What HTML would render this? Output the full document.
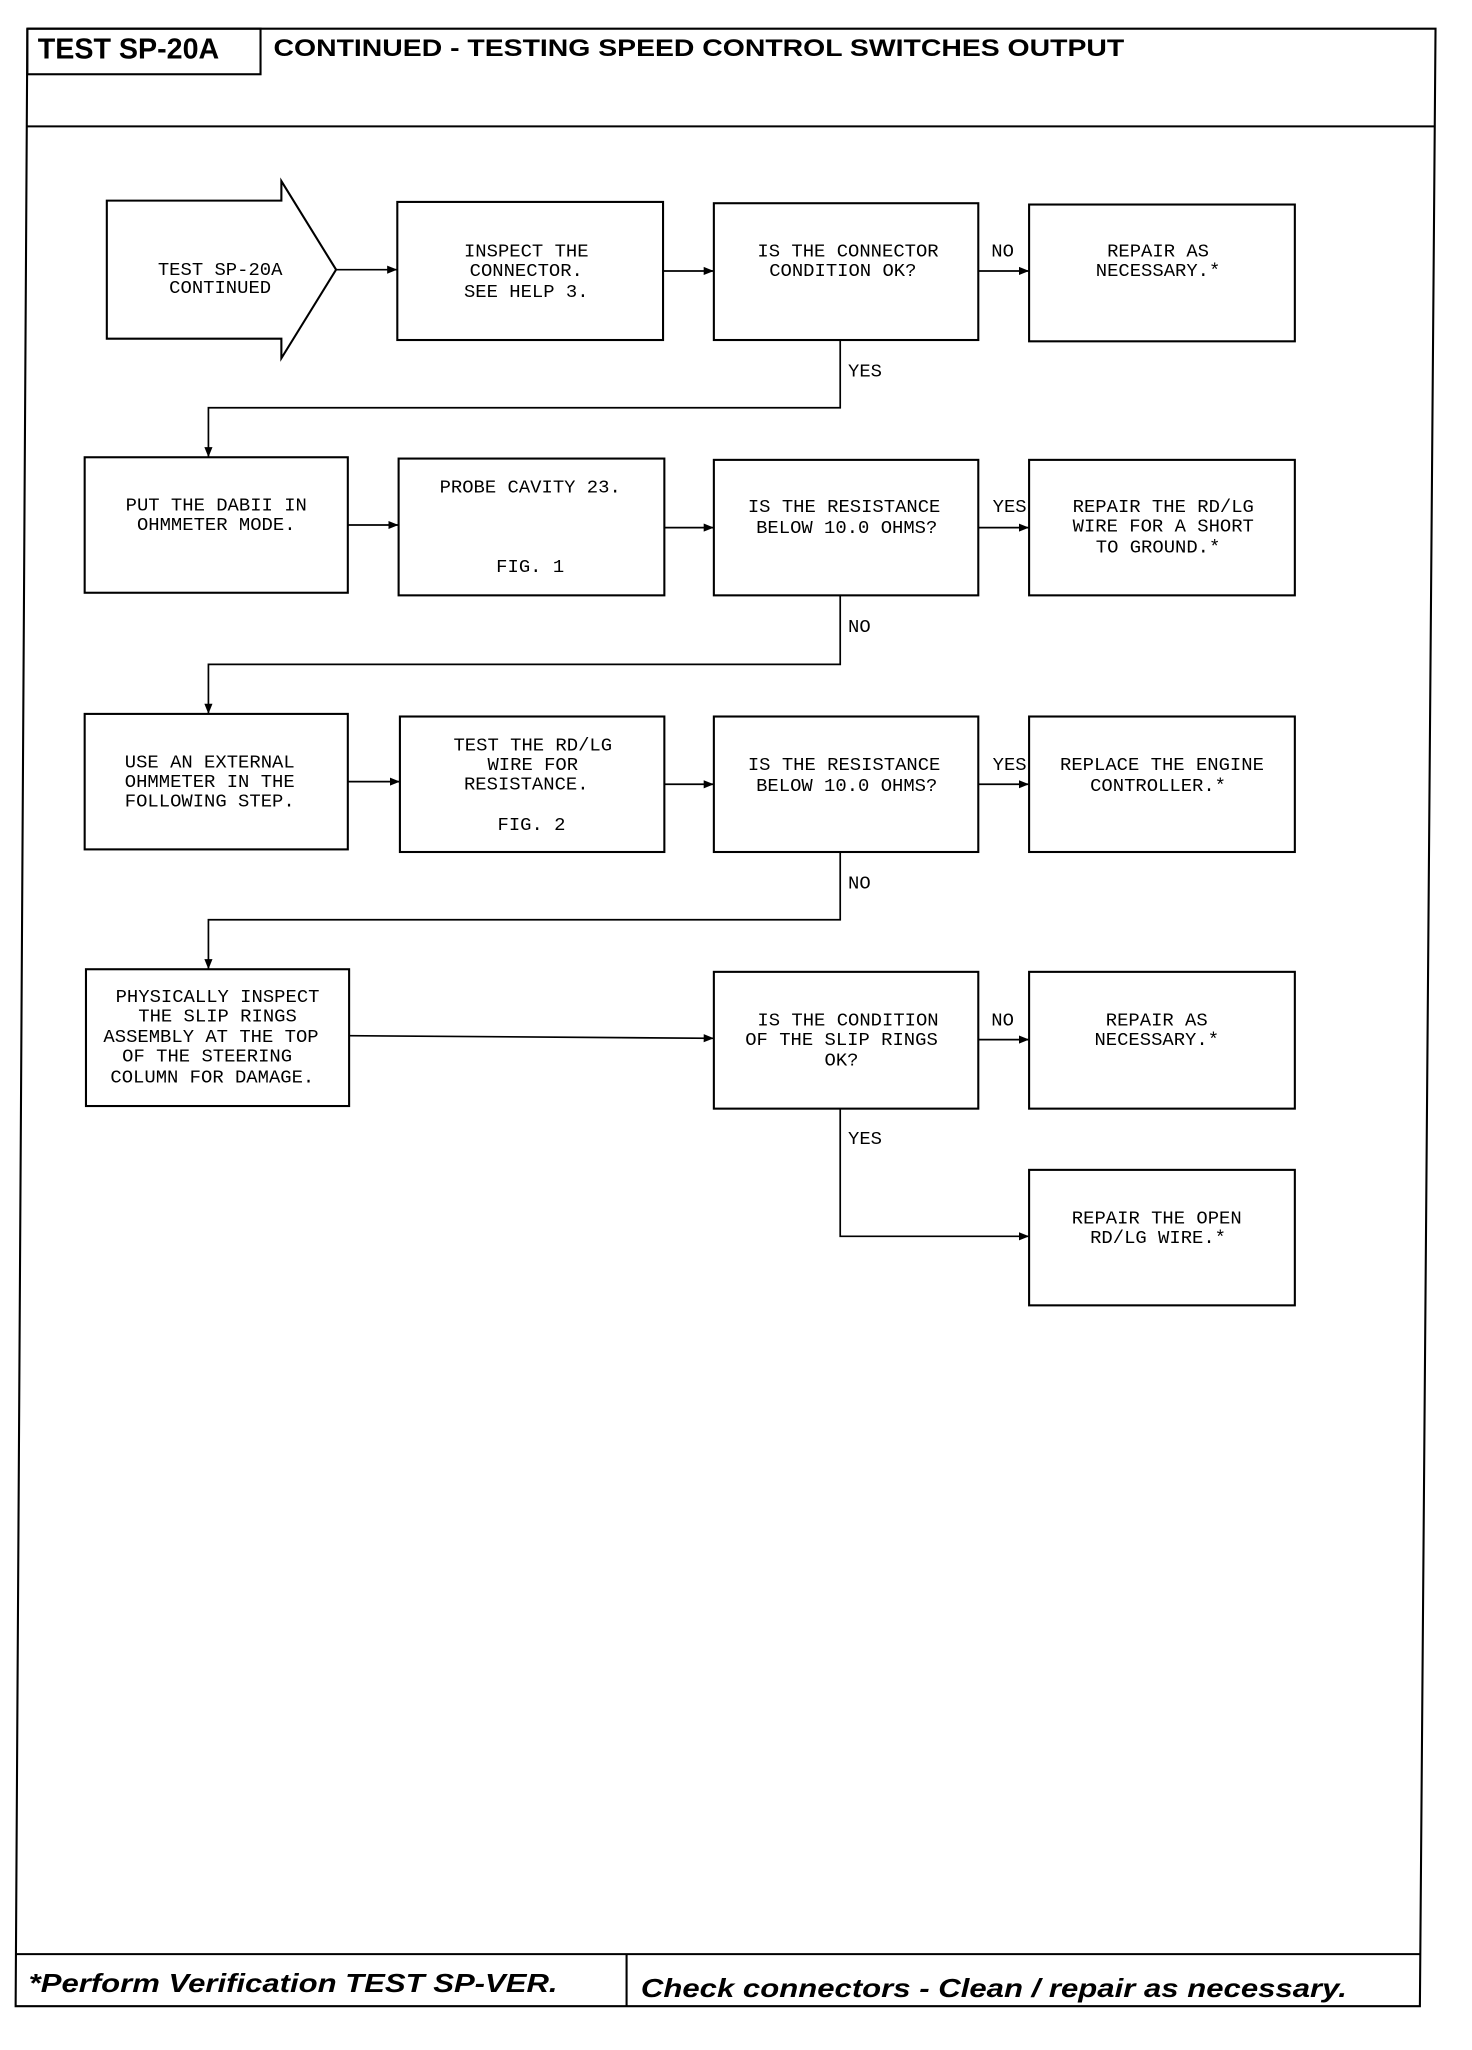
<!DOCTYPE html>
<html><head><meta charset="utf-8"><style>
html,body{margin:0;padding:0;background:#fff;}
svg{display:block;}
.b{fill:none;stroke:#000;stroke-width:1.6;}
.l{fill:none;stroke:#000;stroke-width:1.3;}
.t{font-family:"Liberation Mono",monospace;font-size:14.5px;fill:#000;text-anchor:middle;}
.lab{font-family:"Liberation Mono",monospace;font-size:14.5px;fill:#000;}
</style></head><body>
<svg width="1472" height="2050" viewBox="0 0 1130 1573.6" preserveAspectRatio="none" xmlns="http://www.w3.org/2000/svg">
<defs><marker id="a" viewBox="0 0 10 10" refX="10" refY="5" markerWidth="6" markerHeight="6" orient="auto"><path d="M0,1 L10,5 L0,9 z" fill="#000"/></marker></defs>
<!-- frame -->
<polyline class="b" points="21,22 1102,22 1090,1540 12,1540 21,22" stroke-width="2"/>
<line class="b" x1="21" y1="97" x2="1102" y2="97" stroke-width="2"/>
<line class="b" x1="12" y1="1500" x2="1090" y2="1500" stroke-width="2.2"/>
<line class="b" x1="481" y1="1500" x2="481" y2="1540" stroke-width="2"/>
<rect class="b" x="21" y="22" width="179" height="35" stroke-width="2"/>
<text x="29" y="45" font-family="Liberation Sans,sans-serif" font-weight="bold" font-size="22" fill="#000">TEST SP-20A</text>
<text x="210" y="43" font-family="Liberation Sans,sans-serif" font-weight="bold" font-size="18.5" fill="#000" textLength="653" lengthAdjust="spacingAndGlyphs">CONTINUED - TESTING SPEED CONTROL SWITCHES OUTPUT</text>
<text x="22" y="1529" font-family="Liberation Sans,sans-serif" font-weight="bold" font-style="italic" font-size="20" fill="#000" textLength="406" lengthAdjust="spacingAndGlyphs">*Perform Verification TEST SP-VER.</text>
<text x="492" y="1533" font-family="Liberation Sans,sans-serif" font-weight="bold" font-style="italic" font-size="20" fill="#000" textLength="542" lengthAdjust="spacingAndGlyphs">Check connectors - Clean / repair as necessary.</text>

<!-- start arrow -->
<polygon class="b" points="82,154 216,154 216,139 258,207 216,275 216,260 82,260"/>
<text class="t" x="169" y="211">TEST SP-20A</text>
<text class="t" x="169" y="225">CONTINUED</text>

<!-- row1 -->
<rect class="b" x="305" y="155" width="204" height="106"/>
<text class="t" x="404" y="197">INSPECT THE</text>
<text class="t" x="404" y="212">CONNECTOR.</text>
<text class="t" x="404" y="228">SEE HELP 3.</text>
<rect class="b" x="548" y="156" width="203" height="105"/>
<text class="t" x="651" y="197">IS THE CONNECTOR</text>
<text class="t" x="647" y="212">CONDITION OK?</text>
<rect class="b" x="790" y="157" width="204" height="105"/>
<text class="t" x="889" y="197">REPAIR AS</text>
<text class="t" x="889" y="212">NECESSARY.*</text>

<line class="l" x1="258" y1="207" x2="305" y2="207" marker-end="url(#a)"/>
<line class="l" x1="509" y1="208" x2="548" y2="208" marker-end="url(#a)"/>
<line class="l" x1="751" y1="208" x2="790" y2="208" marker-end="url(#a)"/>
<text class="lab" x="761" y="197">NO</text>
<polyline class="l" points="645,261 645,313 160,313 160,351" marker-end="url(#a)"/>
<text class="lab" x="651" y="289">YES</text>

<!-- row2 -->
<rect class="b" x="65" y="351" width="202" height="104"/>
<text class="t" x="166" y="392">PUT THE DABII IN</text>
<text class="t" x="166" y="407">OHMMETER MODE.</text>
<rect class="b" x="306" y="352" width="204" height="105"/>
<text class="t" x="407" y="378">PROBE CAVITY 23.</text>
<text class="t" x="407" y="439">FIG. 1</text>
<rect class="b" x="548" y="353" width="203" height="104"/>
<text class="t" x="648" y="393">IS THE RESISTANCE</text>
<text class="t" x="650" y="409">BELOW 10.0 OHMS?</text>
<rect class="b" x="790" y="353" width="204" height="104"/>
<text class="t" x="893" y="393">REPAIR THE RD/LG</text>
<text class="t" x="893" y="408">WIRE FOR A SHORT</text>
<text class="t" x="889" y="424">TO GROUND.*</text>
<line class="l" x1="267" y1="403" x2="306" y2="403" marker-end="url(#a)"/>
<line class="l" x1="510" y1="405" x2="548" y2="405" marker-end="url(#a)"/>
<line class="l" x1="751" y1="405" x2="790" y2="405" marker-end="url(#a)"/>
<text class="lab" x="762" y="393">YES</text>
<polyline class="l" points="645,457 645,510 160,510 160,548" marker-end="url(#a)"/>
<text class="lab" x="651" y="485">NO</text>

<!-- row3 -->
<rect class="b" x="65" y="548" width="202" height="104"/>
<text class="t" x="161" y="589">USE AN EXTERNAL</text>
<text class="t" x="161" y="604">OHMMETER IN THE</text>
<text class="t" x="161" y="619">FOLLOWING STEP.</text>
<rect class="b" x="307" y="550" width="203" height="104"/>
<text class="t" x="409" y="576">TEST THE RD/LG</text>
<text class="t" x="409" y="591">WIRE FOR</text>
<text class="t" x="404" y="606">RESISTANCE.</text>
<text class="t" x="408" y="637">FIG. 2</text>
<rect class="b" x="548" y="550" width="203" height="104"/>
<text class="t" x="648" y="591">IS THE RESISTANCE</text>
<text class="t" x="650" y="607">BELOW 10.0 OHMS?</text>
<rect class="b" x="790" y="550" width="204" height="104"/>
<text class="t" x="892" y="591">REPLACE THE ENGINE</text>
<text class="t" x="889" y="607">CONTROLLER.*</text>
<line class="l" x1="267" y1="600" x2="307" y2="600" marker-end="url(#a)"/>
<line class="l" x1="510" y1="602" x2="548" y2="602" marker-end="url(#a)"/>
<line class="l" x1="751" y1="602" x2="790" y2="602" marker-end="url(#a)"/>
<text class="lab" x="762" y="591">YES</text>
<polyline class="l" points="645,654 645,706 160,706 160,744" marker-end="url(#a)"/>
<text class="lab" x="651" y="682">NO</text>

<!-- row4 -->
<rect class="b" x="66" y="744" width="202" height="105"/>
<text class="t" x="167" y="769">PHYSICALLY INSPECT</text>
<text class="t" x="167" y="784">THE SLIP RINGS</text>
<text class="t" x="162" y="800">ASSEMBLY AT THE TOP</text>
<text class="t" x="159" y="815">OF THE STEERING</text>
<text class="t" x="163" y="831">COLUMN FOR DAMAGE.</text>
<rect class="b" x="548" y="746" width="203" height="105"/>
<text class="t" x="651" y="787">IS THE CONDITION</text>
<text class="t" x="646" y="802">OF THE SLIP RINGS</text>
<text class="t" x="646" y="818">OK?</text>
<rect class="b" x="790" y="746" width="204" height="105"/>
<text class="t" x="888" y="787">REPAIR AS</text>
<text class="t" x="888" y="802">NECESSARY.*</text>
<polyline class="l" points="268,795 548,797" marker-end="url(#a)"/>
<line class="l" x1="751" y1="798" x2="790" y2="798" marker-end="url(#a)"/>
<text class="lab" x="761" y="787">NO</text>
<polyline class="l" points="645,851 645,949 790,949" marker-end="url(#a)"/>
<text class="lab" x="651" y="878">YES</text>
<rect class="b" x="790" y="898" width="204" height="104"/>
<text class="t" x="888" y="939">REPAIR THE OPEN</text>
<text class="t" x="889" y="954">RD/LG WIRE.*</text>
</svg>
</body></html>
